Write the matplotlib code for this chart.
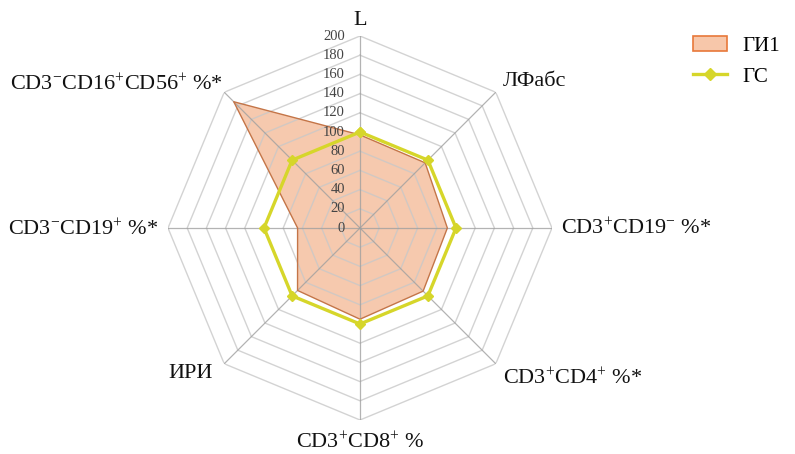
import numpy as np
import matplotlib
matplotlib.use("Agg")
import matplotlib.pyplot as plt
from matplotlib.transforms import offset_copy
from matplotlib.patches import Patch
from matplotlib.lines import Line2D

plt.rcParams['font.family'] = ['Liberation Serif', 'DejaVu Serif']
plt.rcParams['mathtext.fontset'] = 'custom'
plt.rcParams['mathtext.rm'] = 'Liberation Serif'
plt.rcParams['mathtext.it'] = 'Liberation Serif'
plt.rcParams['mathtext.bf'] = 'Liberation Serif'

categories = [
    'L',
    'ЛФабс',
    r'CD3$^{+}$CD19$^{-}$ %*',
    r'CD3$^{+}$CD4$^{+}$ %*',
    r'CD3$^{+}$CD8$^{+}$ %',
    'ИРИ',
    r'CD3$^{-}$CD19$^{+}$ %*',
    r'CD3$^{-}$CD16$^{+}$CD56$^{+}$ %*',
]
gi1 = [97, 96, 91, 93, 95, 92, 65, 186]
gs = [100, 100, 100, 100, 100, 100, 100, 100]
ticks = [0, 20, 40, 60, 80, 100, 120, 140, 160, 180, 200]

W, H = 795, 454
fig = plt.figure(figsize=(W / 100, H / 100), dpi=100)
cx, cy, R = 360, 228, 192
ax = fig.add_axes([(cx - R) / W, (H - cy - R) / H, 2 * R / W, 2 * R / H],
                  projection='polar')
ax.set_theta_offset(np.pi / 2)
ax.set_theta_direction(-1)
ax.set_ylim(0, 200)
ax.grid(False)
ax.spines['polar'].set_visible(False)
ax.set_xticks([])
ax.set_yticks([])
ax.patch.set_alpha(0)

n = len(categories)
ang = np.linspace(0, 2 * np.pi, n, endpoint=False)
ang_c = np.append(ang, ang[0])

# series fill
g = np.append(gi1, gi1[0])
ax.fill(ang_c, g, color='#f3b893', alpha=0.75, zorder=1, lw=0)

# octagonal grid (visible through the fill)
for t in ticks[1:]:
    ax.plot(ang_c, [t] * (n + 1), color='#c8c8c8', lw=1.0, alpha=0.8, zorder=2)
for a in ang:
    ax.plot([a, a], [0, 200], color='#a0a0a0', lw=0.9, alpha=0.8, zorder=2)

ax.plot(ang_c, g, color='#c47548', lw=1.0, zorder=3)
s = np.append(gs, gs[0])
ax.plot(ang_c, s, color='#d6d62a', lw=2.4, marker='D', markersize=5,
        markerfacecolor='#d6d62a', markeredgecolor='#d6d62a', zorder=4)

# tick labels
tr = offset_copy(ax.transData, fig=fig, x=-15, y=0, units='dots')
for t in ticks:
    ax.text(0, t, str(t), transform=tr, ha='right', va='center',
            fontsize=10.5, color='#444444', zorder=5)

# category labels: (ha, va, dx px, dy px) relative to outer ring vertex
lab_spec = [
    ('center', 'bottom', 0, 6),
    ('left', 'bottom', 7, 1),
    ('left', 'center', 9, -1),
    ('left', 'top', 7, -5),
    ('center', 'top', 0, -12),
    ('right', 'top', -11, 0),
    ('right', 'center', -10, -2),
    ('right', 'bottom', -1, -3),
]
for a, lab, (ha, va, dx, dy) in zip(ang, categories, lab_spec):
    t_off = offset_copy(ax.transData, fig=fig, x=dx, y=dy, units='dots')
    ax.text(a, 200, lab, transform=t_off, ha=ha, va=va, fontsize=16,
            color='#111111', clip_on=False)

handles = [
    Patch(facecolor='#f7c7aa', edgecolor='#e8783a', lw=1.2, label='ГИ1'),
    Line2D([0], [0], color='#d6d62a', lw=2.4, marker='D', markersize=6,
           label='ГС'),
]
fig.legend(handles=handles, loc='upper left',
           bbox_to_anchor=(693 / W, 1 - 36 / H), frameon=False,
           fontsize=15, handlelength=1.65, labelspacing=0.55,
           handletextpad=0.7, borderpad=0, borderaxespad=0)

fig.savefig('out.png', dpi=100)
